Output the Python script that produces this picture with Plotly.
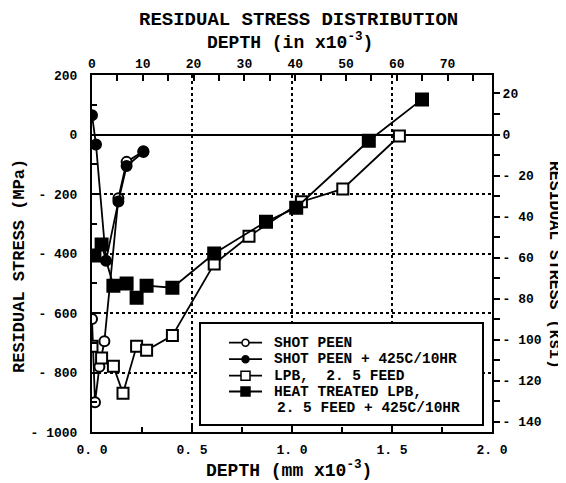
import plotly.graph_objs as go

# Messwerte aus der Abbildung (Tiefe in mm x10^-3, Spannung in MPa)
shot_peen_depth = [0.0, 0.015, 0.037, 0.062, 0.132, 0.173, 0.257]
shot_peen_stress = [-620, -900, -781, -695, -214, -92, -56]

sp_heat_depth = [0.0, 0.02, 0.07, 0.132, 0.173, 0.257]
sp_heat_stress = [65, -34, -424, -225, -106, -59]

lpb_depth = [0.0, 0.048, 0.107, 0.155, 0.223, 0.273, 0.402, 0.611, 0.785, 1.047, 1.254, 1.537]
lpb_stress = [-712, -751, -779, -870, -712, -725, -676, -435, -342, -226, -183, -5]

ht_lpb_depth = [0.012, 0.048, 0.107, 0.173, 0.223, 0.273, 0.402, 0.611, 0.87, 1.021, 1.384, 1.65]
ht_lpb_stress = [-407, -370, -508, -501, -549, -508, -515, -400, -293, -246, -21, 118]

legend_lines = [
    'SHOT PEEN',
    'SHOT PEEN + 425C/10HR',
    'LPB,  2. 5 FEED',
    'HEAT TREATED LPB,',
    '2. 5 FEED + 425C/10HR',
]

mpa_ticks = [200, 0, -200, -400, -600, -800, -1000]
mpa_labels = ['200', '0', '- 200', '- 400', '- 600', '- 800', '- 1000']
ksi_ticks = [20, 0, -20, -40, -60, -80, -100, -120, -140]
ksi_labels = ['20', '0', '- 20', '- 40', '- 60', '- 80', '- 100', '- 120', '- 140']
mm_ticks = [0.0, 0.5, 1.0, 1.5, 2.0]
mm_labels = ['0. 0', '0. 5', '1. 0', '1. 5', '2. 0']
inch_ticks = [0, 10, 20, 30, 40, 50, 60, 70]

MPA_PER_KSI = 6.895
MM_PER_MIL = 0.0254
FONT = 'Liberation Mono'

# Plotbereich: 400 x 357 px
PX_X = 1 / 400
PX_Y = 1 / 357

fig = go.Figure()

styles = [
    dict(symbol='circle', color='white', size=10),
    dict(symbol='circle', color='black', size=10),
    dict(symbol='square', color='white', size=11),
    dict(symbol='square', color='black', size=12),
]
series = [
    (shot_peen_depth, shot_peen_stress),
    (sp_heat_depth, sp_heat_stress),
    (lpb_depth, lpb_stress),
    (ht_lpb_depth, ht_lpb_stress),
]

for (xs, ys), st in zip(series, styles):
    fig.add_trace(go.Scatter(
        x=xs, y=ys, mode='lines+markers', showlegend=False,
        line=dict(color='black', width=1.8),
        marker=dict(symbol=st['symbol'], size=st['size'], color=st['color'],
                    line=dict(color='black', width=2))
    ))

# Hilfsspur für die zweiten Achsen (in / ksi)
fig.add_trace(go.Scatter(x=[None], y=[None], xaxis='x2', yaxis='y2',
                         showlegend=False, hoverinfo='skip'))

# Legende von Hand (Kasten, Symbole, Texte)
shapes = [dict(
    type='rect', xref='paper', yref='paper',
    x0=0.27, x1=0.9775, y0=0.0196, y1=0.3053,
    fillcolor='white', line=dict(color='black', width=2), layer='above'
)]
row_y = [0.2501, 0.2039, 0.1577, 0.1134, 0.0686]
sym_x0, sym_x1, sym_xc = 0.3425, 0.425, 0.38375
for i, st in enumerate(styles):
    y = row_y[i]
    shapes.append(dict(type='line', xref='paper', yref='paper',
                       x0=sym_x0, x1=sym_x1, y0=y, y1=y,
                       line=dict(color='black', width=1.8), layer='above'))
    half = 3.5 if st['symbol'] == 'circle' else 4.5
    shapes.append(dict(type='circle' if st['symbol'] == 'circle' else 'rect',
                       xref='paper', yref='paper',
                       x0=sym_xc - half * PX_X, x1=sym_xc + half * PX_X,
                       y0=y - half * PX_Y, y1=y + half * PX_Y,
                       fillcolor=st['color'], line=dict(color='black', width=1.5),
                       layer='above'))

legend_ann = []
for i, txt in enumerate(legend_lines):
    legend_ann.append(dict(text=txt, x=0.45 if i < 4 else 0.4575, y=row_y[i],
                           xanchor='left', font=dict(size=14.5, weight='bold')))

tick_font = dict(family=FONT, size=13, color='black', weight='bold')
frame = dict(showline=True, linewidth=2, linecolor='black', mirror=False)

fig.update_layout(
    width=566, height=483,
    margin=dict(l=84, r=82, t=67, b=59),
    plot_bgcolor='white', paper_bgcolor='white',
    font=dict(family=FONT, color='black'),
    showlegend=False,
    xaxis=dict(
        range=[0, 2], tickvals=mm_ticks, ticktext=mm_labels,
        ticks='inside', ticklen=6, tickwidth=2, tickcolor='black',
        minor=dict(dtick=0.25, ticks='inside', ticklen=5, tickwidth=2, tickcolor='black'),
        showgrid=True, gridcolor='black', gridwidth=1.5, griddash='dot',
        zeroline=False, tickfont=tick_font, ticklabelstandoff=4, **frame
    ),
    xaxis2=dict(
        range=[0, 2 / MM_PER_MIL], overlaying='x', side='top', anchor='y',
        tickvals=inch_ticks, ticks='inside', ticklen=6, tickwidth=2, tickcolor='black',
        minor=dict(dtick=5, ticks='inside', ticklen=6, tickwidth=2, tickcolor='black'),
        showgrid=False, zeroline=False, tickfont=tick_font, **frame
    ),
    yaxis=dict(
        range=[-1000, 200], tickvals=mpa_ticks, ticktext=mpa_labels,
        ticks='inside', ticklen=6, tickwidth=2, tickcolor='black',
        minor=dict(dtick=100, ticks='inside', ticklen=5, tickwidth=2, tickcolor='black'),
        showgrid=True, gridcolor='black', gridwidth=1.5, griddash='dot',
        zeroline=True, zerolinecolor='black', zerolinewidth=2,
        tickfont=tick_font, ticklabelstandoff=10, **frame
    ),
    yaxis2=dict(
        range=[-1000 / MPA_PER_KSI, 200 / MPA_PER_KSI], overlaying='y', side='right',
        anchor='x', tickvals=ksi_ticks, ticktext=ksi_labels,
        ticks='outside', ticklen=6, tickwidth=2, tickcolor='black',
        minor=dict(dtick=10, ticks='outside', ticklen=6, tickwidth=2, tickcolor='black'),
        showgrid=False, zeroline=False, tickfont=tick_font, **frame
    ),
    shapes=shapes,
    annotations=[
        dict(text='RESIDUAL STRESS DISTRIBUTION', x=0.515, y=1.154,
             font=dict(size=19, weight='bold')),
        dict(text='DEPTH (in x10<sup>-3</sup>)', x=0.495, y=1.094,
             font=dict(size=18, weight='bold')),
        dict(text='DEPTH (mm x10<sup>-3</sup>)', x=0.4925, y=-0.106,
             font=dict(size=18, weight='bold')),
        dict(text='RESIDUAL STRESS (MPa)', x=-0.18, y=0.465, textangle=-90,
             font=dict(size=17, weight='bold')),
        dict(text='RESIDUAL STRESS (ksi)', x=1.155, y=0.468, textangle=90,
             font=dict(size=16.5, weight='bold')),
    ] + legend_ann,
)
for a in fig.layout.annotations:
    a.update(xref='paper', yref='paper', showarrow=False, yanchor='middle')
    if a.xanchor is None:
        a.update(xanchor='center')

fig.write_html("out.html")
